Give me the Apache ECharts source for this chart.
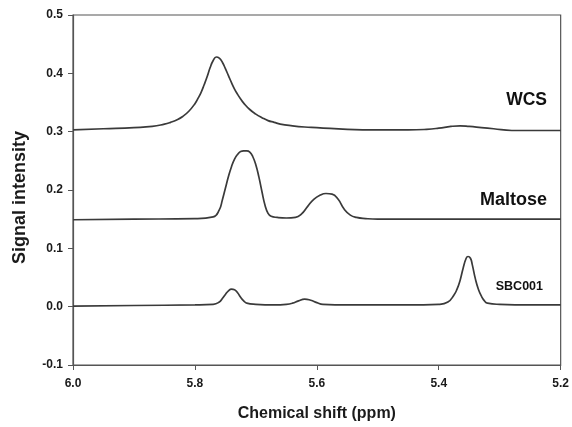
<!DOCTYPE html>
<html>
<head>
<meta charset="utf-8">
<title>Chemical shift</title>
<script src="https://cdn.jsdelivr.net/npm/echarts@6/dist/echarts.min.js"></script>
<style>
  html, body { margin: 0; padding: 0; background: #fff; }
  #chart { width: 572px; height: 427px; }
</style>
</head>
<body>
<div id="chart"></div>
<script>
// (ppm, signal)
var wcsShift  = [6.00, 5.95, 5.90, 5.87, 5.85, 5.84, 5.83, 5.82, 5.81, 5.80, 5.795, 5.79, 5.785, 5.78, 5.775, 5.77, 5.765, 5.76, 5.755, 5.75, 5.745, 5.74, 5.735, 5.73, 5.725, 5.72, 5.71, 5.70, 5.69, 5.68, 5.67, 5.66, 5.64, 5.62, 5.60, 5.55, 5.50, 5.45, 5.42, 5.40, 5.38, 5.365, 5.35, 5.33, 5.31, 5.28, 5.25, 5.20];
var wcsSignal = [0.303, 0.305, 0.307, 0.309, 0.313, 0.316, 0.320, 0.326, 0.335, 0.348, 0.357, 0.367, 0.380, 0.394, 0.410, 0.422, 0.428, 0.426, 0.419, 0.408, 0.396, 0.384, 0.373, 0.364, 0.356, 0.349, 0.338, 0.330, 0.324, 0.319, 0.316, 0.313, 0.310, 0.308, 0.307, 0.304, 0.303, 0.303, 0.304, 0.306, 0.309, 0.310, 0.309, 0.307, 0.305, 0.302, 0.302, 0.302];

var maltoseShift  = [6.00, 5.90, 5.80, 5.77, 5.76, 5.755, 5.75, 5.745, 5.74, 5.735, 5.73, 5.725, 5.72, 5.715, 5.71, 5.705, 5.70, 5.695, 5.69, 5.685, 5.68, 5.675, 5.665, 5.65, 5.635, 5.625, 5.615, 5.605, 5.595, 5.585, 5.575, 5.565, 5.555, 5.545, 5.535, 5.52, 5.50, 5.40, 5.30, 5.20];
var maltoseSignal = [0.149, 0.150, 0.151, 0.154, 0.166, 0.183, 0.203, 0.223, 0.240, 0.253, 0.261, 0.266, 0.267, 0.267, 0.265, 0.257, 0.243, 0.222, 0.197, 0.174, 0.160, 0.155, 0.153, 0.152, 0.153, 0.159, 0.172, 0.184, 0.191, 0.194, 0.193, 0.184, 0.167, 0.157, 0.153, 0.151, 0.150, 0.150, 0.150, 0.150];

var sbcShift  = [6.00, 5.90, 5.80, 5.77, 5.76, 5.755, 5.75, 5.745, 5.74, 5.735, 5.73, 5.725, 5.72, 5.715, 5.70, 5.67, 5.65, 5.64, 5.63, 5.62, 5.61, 5.60, 5.59, 5.55, 5.50, 5.45, 5.40, 5.385, 5.375, 5.37, 5.365, 5.36, 5.355, 5.352, 5.348, 5.345, 5.34, 5.335, 5.33, 5.325, 5.32, 5.30, 5.25, 5.20];
var sbcSignal = [0.001, 0.002, 0.003, 0.004, 0.008, 0.014, 0.021, 0.027, 0.030, 0.029, 0.024, 0.016, 0.010, 0.006, 0.004, 0.003, 0.004, 0.006, 0.010, 0.013, 0.011, 0.007, 0.004, 0.003, 0.003, 0.003, 0.004, 0.008, 0.020, 0.030, 0.045, 0.066, 0.083, 0.086, 0.083, 0.072, 0.048, 0.030, 0.018, 0.010, 0.006, 0.004, 0.003, 0.003];

var seriesNames = ['WCS', 'Maltose', 'SBC001'];

function pairs(xs, ys) {
  var out = [];
  for (var i = 0; i < xs.length; i++) out.push([xs[i], ys[i]]);
  return out;
}

var lineColor = '#3a3a3a';
function spectrum(name, xs, ys) {
  return {
    name: name,
    type: 'line',
    data: pairs(xs, ys),
    showSymbol: false,
    smooth: 0.5,
    lineStyle: { color: lineColor, width: 1.7 },
    silent: true
  };
}

var chart = echarts.init(document.getElementById('chart'));

var labelFont = { fontFamily: 'Liberation Sans, Arial, sans-serif', fontWeight: 'bold', color: '#1a1a1a' };

var option = {
  animation: false,
  grid: {
    left: 73, right: 11, top: 15, bottom: 61,
    show: true, borderColor: '#555', borderWidth: 1.2
  },
  xAxis: {
    type: 'value',
    inverse: true,
    min: 5.2, max: 6.0, interval: 0.2,
    name: 'Chemical shift (ppm)',
    nameLocation: 'middle',
    nameGap: 41,
    nameTextStyle: Object.assign({ fontSize: 16 }, labelFont),
    axisLine: { onZero: false, lineStyle: { color: '#555', width: 1.2 } },
    axisTick: { show: true, inside: false, length: 5, lineStyle: { color: '#555' } },
    axisLabel: Object.assign({ fontSize: 12, margin: 13, formatter: function (v) { return v.toFixed(1); } }, labelFont),
    splitLine: { show: false }
  },
  yAxis: {
    type: 'value',
    min: -0.1, max: 0.5, interval: 0.1,
    name: 'Signal intensity',
    nameLocation: 'middle',
    nameGap: 44,
    nameTextStyle: Object.assign({ fontSize: 18, padding: [0, 15, 0, 0] }, labelFont),
    axisLine: { show: true, onZero: false, lineStyle: { color: '#555', width: 1.2 } },
    axisTick: { show: true, inside: false, length: 5, lineStyle: { color: '#555' } },
    axisLabel: Object.assign({ fontSize: 12, margin: 10, formatter: function (v) { return v.toFixed(1); } }, labelFont),
    splitLine: { show: false }
  },
  series: [
    spectrum(seriesNames[0], wcsShift, wcsSignal),
    spectrum(seriesNames[1], maltoseShift, maltoseSignal),
    spectrum(seriesNames[2], sbcShift, sbcSignal)
  ],
  graphic: [
    { type: 'text', right: 25, top: 91, style: Object.assign({ text: seriesNames[0], fontSize: 17.5 }, labelFont, { fill: '#111' }) },
    { type: 'text', right: 25, top: 191, style: Object.assign({ text: seriesNames[1], fontSize: 18 }, labelFont, { fill: '#111' }) },
    { type: 'text', right: 29, top: 280, style: Object.assign({ text: seriesNames[2], fontSize: 12.5 }, labelFont, { fill: '#111' }) }
  ]
};

chart.setOption(option);
</script>
</body>
</html>
